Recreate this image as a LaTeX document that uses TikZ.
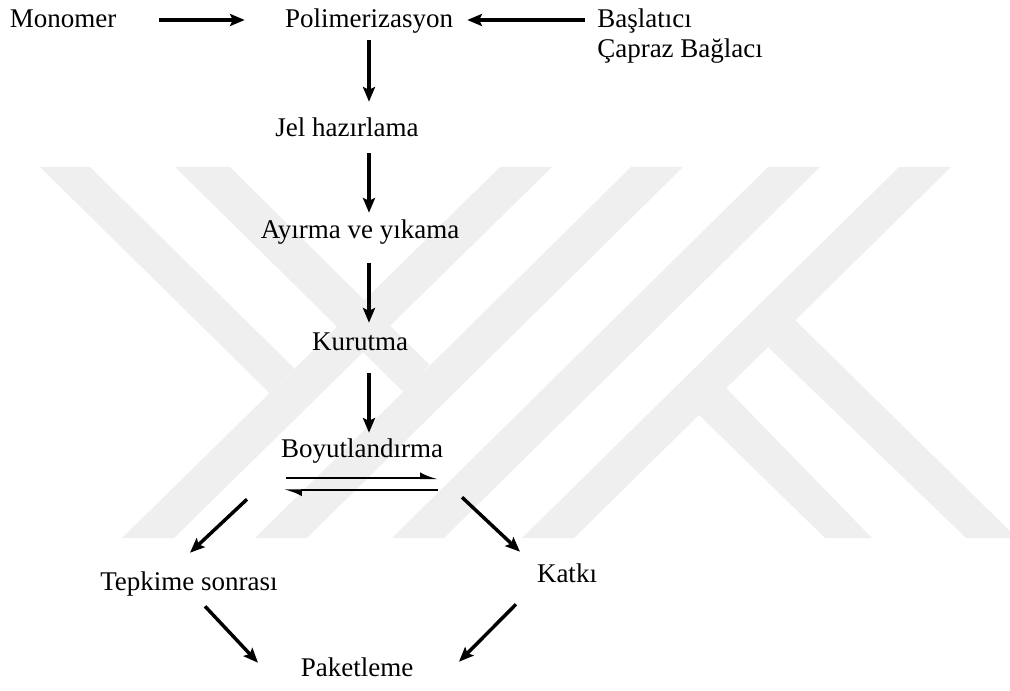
\documentclass[tikz,border=0pt]{standalone}
\usepackage{fontspec}
\setmainfont{Liberation Serif}
\usetikzlibrary{arrows.meta,calc}

\definecolor{wmgray}{RGB}{239,239,239}

\tikzset{
  lbl/.style={inner sep=0pt, anchor=base, font=\fontsize{20.25}{22}\selectfont,
    text height=15pt, text depth=3pt},
  flowarr/.style={line width=2.6pt, -{Stealth[length=11pt,width=9pt,inset=2pt]}},
  eqarr/.style={line width=1.3pt, -{Latex[left,length=11pt,width=9pt]}},
}

\begin{document}
\begin{tikzpicture}[x=0.75pt,y=0.75pt,yscale=-1,xscale=1]
\useasboundingbox (0,0) rectangle (1010,691);
\clip (0,0) rectangle (1010,691);

% Watermark
\fill[wmgray] (40,167) -- (90,167) -- (294.3,368.3) -- (269.3,392.9) -- cycle;
\fill[wmgray] (122,538) -- (174,538) -- (552,167) -- (500,167) -- cycle;
\fill[wmgray] (175,167) -- (230,167) -- (429.5,364.8) -- (403.3,391.9) -- cycle;
\fill[wmgray] (255,538) -- (307,538) -- (683,167) -- (631,167) -- cycle;
\fill[wmgray] (392,538) -- (444,538) -- (820,167) -- (768,167) -- cycle;
\fill[wmgray] (522,538) -- (574,538) -- (951,167) -- (899,167) -- cycle;
\fill[wmgray] (795,320) -- (1017,538) -- (966,538) -- (768,347) -- cycle;
\fill[wmgray] (726,388) -- (872,538) -- (825,538) -- (699,415) -- cycle;

% Text Node
\node[lbl] (mono) at (63,28) {Monomer};
% Text Node
\node[lbl] (polim) at (369,28) {Polimerizasyon};
% Text Node
\node[lbl, anchor=base west] (basl) at (597,28) {Başlatıcı};
% Text Node
\node[lbl, anchor=base west] (capr) at (597,58) {Çapraz Bağlacı};
% Text Node
\node[lbl] (jel) at (347,137) {Jel hazırlama};
% Text Node
\node[lbl] (ayir) at (360,239) {Ayırma ve yıkama};
% Text Node
\node[lbl] (kuru) at (360,351) {Kurutma};
% Text Node
\node[lbl] (boyut) at (362,457) {Boyutlandırma};
% Text Node
\node[lbl] (tepk) at (189,590) {Tepkime sonrası};
% Text Node
\node[lbl] (katki) at (567,582) {Katkı};
% Text Node
\node[lbl] (paket) at (357,676) {Paketleme};

%Straight Lines
\draw[flowarr] ($(mono.east)+(42,0)$) -- ($(polim.west)+(-40,0)$);
\draw[flowarr] ($(basl.west)+(-12,0)$) -- ($(polim.east)+(14,0)$);
%Straight Lines
\draw[flowarr] ($(polim.south)+(0,8)$) -- ($(polim.south |- jel.north)+(0,-15)$);
\draw[flowarr] ($(jel.south -| polim)+(0,12)$) -- ($(ayir.north -| polim)+(0,-6)$);
\draw[flowarr] ($(ayir.south -| polim)+(0,20)$) -- ($(kuru.north -| polim)+(0,-8)$);
\draw[flowarr] ($(kuru.south -| polim)+(0,18)$) -- ($(boyut.north -| polim)+(0,-4)$);
%Straight Lines
\draw[eqarr] ($(boyut.south)+(-76,17)$) -- ($(boyut.south)+(76,17)$);
\draw[eqarr] ($(boyut.south)+(76,29)$) -- ($(boyut.south)+(-78,29)$);
%Straight Lines
\draw[flowarr] ($(boyut.south)+(-115,38)$) -- ($(tepk.north)+(1,-17)$);
\draw[flowarr] ($(boyut.south)+(100,36)$) -- ($(katki.north)+(-47,-10)$);
\draw[flowarr] ($(tepk.south)+(16,12)$) -- ($(paket.north)+(-99,7)$);
\draw[flowarr] ($(katki.south)+(-51,18)$) -- ($(paket.north)+(102,6)$);

\end{tikzpicture}
\end{document}
